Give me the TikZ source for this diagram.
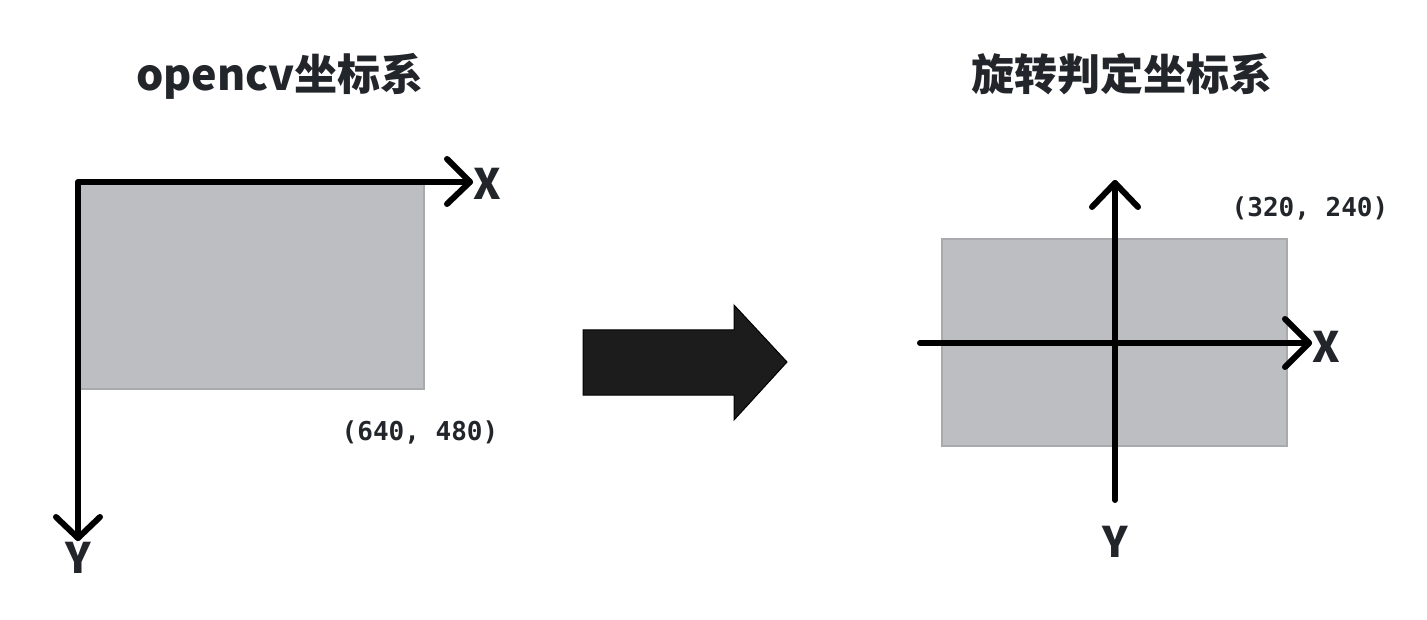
\documentclass[tikz,border=0pt]{standalone}
\usepackage{fontspec}
\setmainfont{Noto Sans CJK SC}
\newfontfamily\cjkfont{Noto Sans CJK SC}
\newfontfamily\monofont{DejaVu Sans Mono}
\definecolor{txt}{HTML}{22252A}
\definecolor{rectfill}{HTML}{BCBEC2}
\definecolor{rectline}{HTML}{A8AAAD}
\definecolor{bigarrow}{HTML}{1C1C1C}
\tikzset{
  titletext/.style={anchor=base, inner sep=0pt, text=txt, font=\cjkfont\bfseries\fontsize{43}{50}\selectfont},
  axislabel/.style={anchor=base, inner sep=0pt, text=txt, font=\cjkfont\bfseries\fontsize{42}{48}\selectfont},
  coordtext/.style={anchor=base, inner sep=0pt, text=txt, font=\monofont\bfseries\fontsize{26}{30}\selectfont},
  imgrect/.style={fill=rectfill, draw=rectline, line width=2pt},
  axisline/.style={line width=6pt, line cap=round, line join=round, draw=black},
}
\begin{document}
\begin{tikzpicture}[x=1pt,y=-1pt]
\useasboundingbox[fill=white] (0,0) rectangle (1427,620);

% titles
\node[titletext] (t1) at (280,91) {opencv坐标系};
\node[titletext] (t2) at (1122,91) {旋转判定坐标系};

% left picture
\coordinate (lo) at (78,182);
\coordinate (lx) at (470,182);
\coordinate (ly) at (78,538);
\draw[imgrect] (80,182) rectangle (424,389);
\draw[axisline] (lx) -- (lo) -- (ly);
\draw[axisline] (lx) ++(-23,-23) -- (lx) -- ++(-23,22);
\draw[axisline] (ly) ++(-22,-21) -- (ly) -- ++(22,-21);
\node[axislabel] (lxl) at (487,200) {X};
\node[axislabel] (lyl) at (78,573) {Y};
\node[coordtext] (lc) at (420,440) {(640, 480)};

% transition arrow
\draw[fill=bigarrow, draw=black, line width=1pt]
  (583,330) -- (734,330) -- (734,305) -- (787,362) -- (734,420) -- (734,395) -- (583,395) -- cycle;

% right picture
\coordinate (rl) at (920,343);
\coordinate (rx) at (1309,343);
\coordinate (rb) at (1115,500);
\coordinate (ry) at (1115,183);
\draw[imgrect] (942,239) rectangle (1287,446);
\draw[axisline] (rl) -- (rx);
\draw[axisline] (rb) -- (ry);
\draw[axisline] (rx) ++(-24,-24) -- (rx) -- ++(-24,24);
\draw[axisline] (ry) ++(-23,24) -- (ry) -- ++(23,24);
\node[axislabel] (rxl) at (1326,362) {X};
\node[axislabel] (ryl) at (1115,557) {Y};
\node[coordtext] (rc) at (1310,217) {(320, 240)};
\end{tikzpicture}
\end{document}
